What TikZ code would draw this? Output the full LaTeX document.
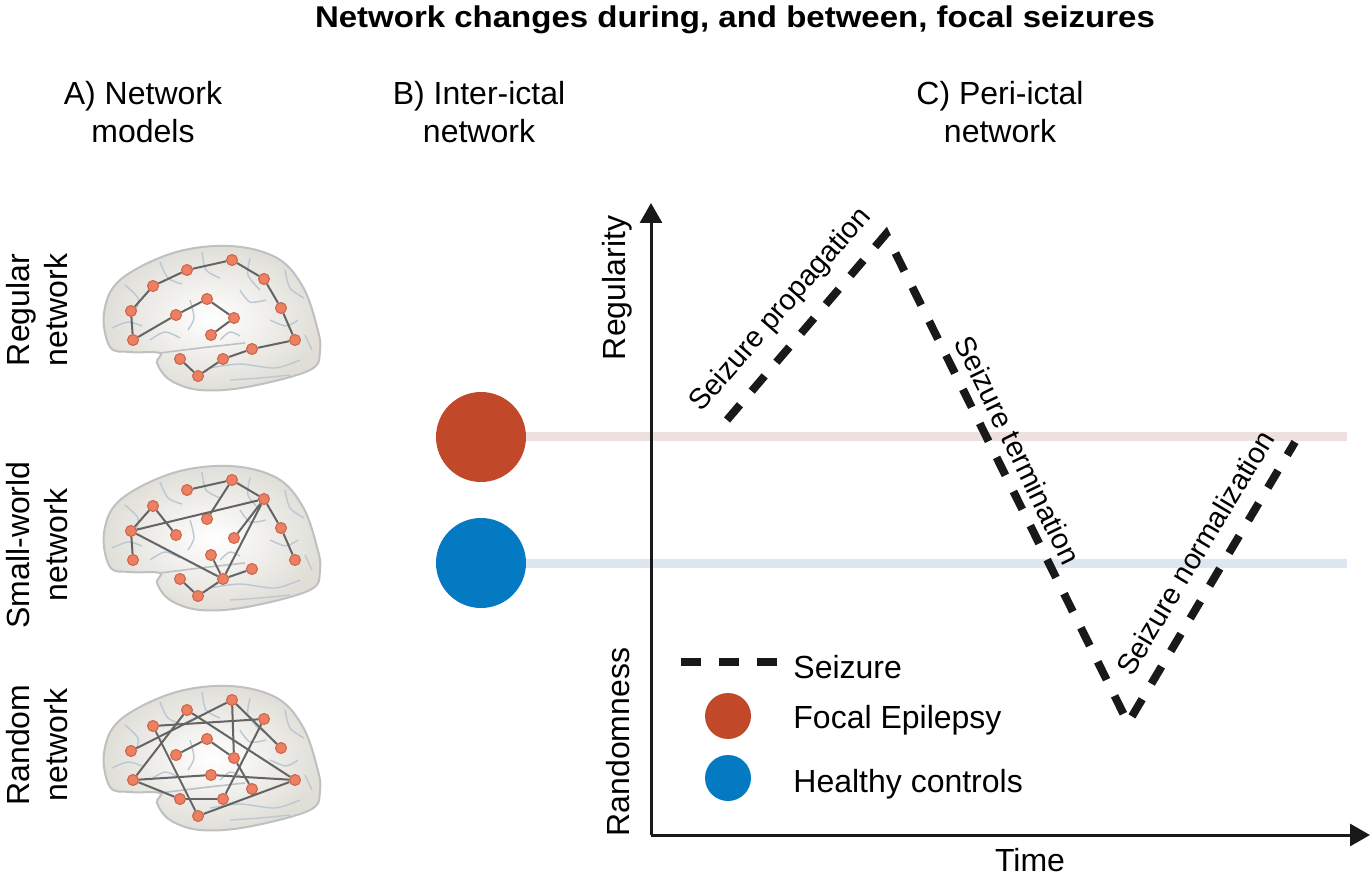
\documentclass[tikz,border=0pt]{standalone}
\usepackage{fontspec}
\setmainfont{Liberation Sans}
\usetikzlibrary{arrows.meta}

\definecolor{epired}{RGB}{194,72,42}
\definecolor{ctrlblue}{RGB}{4,122,194}
\definecolor{palered}{RGB}{239,224,224}
\definecolor{paleblue}{RGB}{222,231,239}
\definecolor{brainfill}{RGB}{224,222,215}
\definecolor{brainline}{RGB}{190,192,194}
\definecolor{sulcuscol}{RGB}{186,200,212}
\definecolor{dotfill}{RGB}{236,128,98}
\definecolor{dotline}{RGB}{206,96,70}
\definecolor{linkgray}{RGB}{100,100,100}

\tikzset{
  heading/.style={align=center, font=\fontsize{16}{19}\selectfont},
  rowlabel/.style={align=center, rotate=90, font=\fontsize{16}{19}\selectfont},
  phase/.style={font=\fontsize{14.5}{17}\selectfont},
  keytext/.style={anchor=base west, inner sep=0pt, font=\fontsize{16}{19}\selectfont},
  seizure/.style={line width=4pt, dash pattern=on 10pt off 9pt, black!90},
  paleline/.style={line width=4.5pt},
  axis/.style={line width=1.5pt, black!90, -{Triangle[length=10pt,width=11pt]}},
  dot/.style={circle, fill=dotfill, draw=dotline, line width=0.5pt, minimum size=5.5pt, inner sep=0pt},
  link/.style={draw=linkgray, line width=1pt},
  sulcus/.style={draw=sulcuscol, line width=0.7pt},
  bigdot/.style={circle, minimum size=45pt, inner sep=0pt},
  keydot/.style={circle, minimum size=23pt, inner sep=0pt}
}

\newcommand{\brainshape}[1]{%
  \begin{scope}[shift={(90,#1)}]
    \shadedraw[draw=brainline, line width=1pt, inner color=white, outer color=brainfill]
      plot[smooth cycle, tension=0.6] coordinates {(20,107) (14,73) (30,40) (83,13) (140,6) (187,18) (213,47) (227,87) (230,110) (220,130) (157,147) (110,150) (80,140) (67,123) (70,113) (40,112)};
    \draw[sulcus] plot[smooth] coordinates {(22,88) (38,82) (52,86)};
    \draw[sulcus] plot[smooth] coordinates {(35,45) (48,58) (46,70)};
    \draw[sulcus] plot[smooth] coordinates {(70,22) (78,38) (92,44)};
    \draw[sulcus] plot[smooth] coordinates {(112,12) (116,30) (130,38)};
    \draw[sulcus] plot[smooth] coordinates {(160,18) (158,35) (170,50)};
    \draw[sulcus] plot[smooth] coordinates {(195,30) (200,48) (214,58)};
    \draw[sulcus] plot[smooth] coordinates {(100,60) (104,78) (98,90)};
    \draw[sulcus] plot[smooth] coordinates {(150,50) (160,62) (176,60)};
    \draw[sulcus] plot[smooth] coordinates {(180,80) (196,86) (208,80)};
    \draw[sulcus] plot[smooth] coordinates {(60,100) (75,92) (90,98)};
    \draw[sulcus] plot[smooth] coordinates {(130,100) (140,92) (150,96)};
    \draw[sulcus] plot[smooth] coordinates {(120,128) (150,124) (185,128) (210,120)};
    \draw[sulcus] plot[smooth] coordinates {(140,140) (170,138) (200,135)};
    \draw[sulcus] plot[smooth] coordinates {(215,95) (222,110)};
    \draw[draw=brainline, line width=0.8pt] plot[smooth] coordinates {(70,113) (110,108) (155,103)};
  \end{scope}}

\newcommand{\brainnodes}[2]{%
  \foreach \n/\x/\y in {1/142/20, 2/97/30, 3/63/46, 4/41/71, 5/43/100, 6/86/75, 7/117/59, 8/144/78,
      9/121/95, 10/174/39, 11/191/68, 12/205/100, 13/162/109, 14/133/119, 15/108/136, 16/90/119}
    \node[dot] (#1\n) at (90+\x,#2+\y) {};}

\begin{document}
\begin{tikzpicture}[x=0.5pt, y=-0.5pt]
  \useasboundingbox (0,0) rectangle (1372,882);

  \node[font=\bfseries\fontsize{15}{18}\selectfont, xscale=1.1, transform shape] (title) at (735,20) {Network changes during, and between, focal seizures};
  \node[heading] (headA) at (143,112) {A) Network\\models};
  \node[heading] (headB) at (479,112) {B) Inter-ictal\\network};
  \node[heading] (headC) at (1000,112) {C) Peri-ictal\\network};

  \node[rowlabel] (rowreg) at (37,310) {Regular\\network};
  \node[rowlabel] (rowsw) at (37,545) {Small-world\\network};
  \node[rowlabel] (rowrnd) at (37,745) {Random\\network};

  \brainshape{240}
  \brainshape{460}
  \brainshape{680}
  \brainnodes{R}{240}
  \brainnodes{S}{460}
  \brainnodes{N}{680}
  \foreach \a/\b in {9/8,8/7,7/6,6/5,5/4,4/3,3/2,2/1,1/10,10/11,11/12,12/13,13/14,14/15,15/16}
    \draw[link] (R\a) -- (R\b);
  \foreach \a/\b in {2/1,1/10,1/7,4/10,4/3,3/6,4/5,4/14,10/8,10/14,10/11,11/12,9/14,14/13,14/15,15/16}
    \draw[link] (S\a) -- (S\b);
  \foreach \a/\b in {4/1,1/8,1/11,3/10,3/15,2/12,2/5,6/7,7/8,8/13,10/14,5/9,9/12,5/16,16/14,15/12}
    \draw[link] (N\a) -- (N\b);

  \node[bigdot, fill=epired] (epi) at (481,437) {};
  \node[bigdot, fill=ctrlblue] (ctrl) at (481,563) {};
  \coordinate (epiend) at (1347,437);
  \coordinate (ctrlend) at (1347,563);
  \draw[paleline, palered] (epi) -- (epiend);
  \draw[paleline, paleblue] (ctrl) -- (ctrlend);

  \coordinate (O) at (651,835);
  \coordinate (ytop) at (651,203);
  \coordinate (xend) at (1370,835);
  \draw[axis] (O) -- (ytop);
  \draw[axis] (O) -- (xend);
  \node[rotate=90, font=\fontsize{16}{19}\selectfont] (regy) at (617,288) {Regularity};
  \node[rotate=90, font=\fontsize{16}{19}\selectfont] (randy) at (618,742) {Randomness};
  \node[font=\fontsize{16}{19}\selectfont] (time) at (1030,860) {Time};

  \coordinate (s0) at (727,420);
  \coordinate (s1) at (886,234);
  \coordinate (s2) at (1128,723);
  \coordinate (s3) at (1295,442);
  \draw[seizure] (s0) -- (s1) -- (s2) -- (s3);
  \node[phase, rotate=49] (prop) at (781,310) {Seizure propagation};
  \node[phase, rotate=-64] (term) at (1018,450) {Seizure termination};
  \node[phase, rotate=59] (norm) at (1195,553) {Seizure normalization};

  \coordinate (k0) at (681,662);
  \coordinate (k1) at (777,662);
  \draw[seizure] (k0) -- (k1);
  \node[keytext] (kseiz) at (793,678) {Seizure};
  \node[keydot, fill=epired] (kepi) at (728,716) {};
  \node[keytext] (kepitext) at (793,728) {Focal Epilepsy};
  \node[keydot, fill=ctrlblue] (kctrl) at (728,778) {};
  \node[keytext] (kctrltext) at (793,792) {Healthy controls};
\end{tikzpicture}
\end{document}
